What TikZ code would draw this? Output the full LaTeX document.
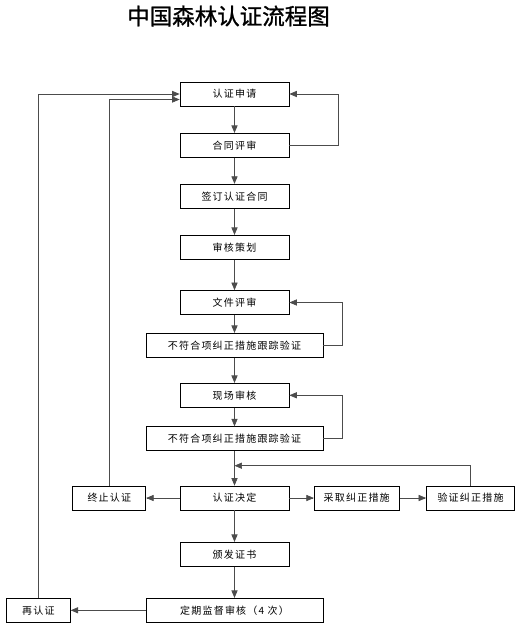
\documentclass[tikz,border=0pt]{standalone}
\usepackage{fontspec}
\newfontfamily\cjk[LetterSpace=12]{Noto Sans CJK SC}
\newfontfamily\cjktitle[FakeBold=1.2]{Noto Sans CJK SC}
\usetikzlibrary{arrows}

\begin{document}
\begin{tikzpicture}
  [x=1pt,y=-1pt,every node/.style={draw,thick,inner sep=0pt,minimum height=24pt,font=\cjk\fontsize{10}{12}\selectfont}]
  \useasboundingbox (0,0) rectangle (526,632);
  \tikzset{flow/.style={draw=black!70,line width=0.7pt,arrows={-{triangle 45}}},
           box/.style={minimum width=109pt},
           widebox/.style={minimum width=177pt}}

  \node[draw=none,font=\cjktitle\fontsize{22.5}{26}\selectfont] (title) at (228.5,16) {中国森林认证流程图};

  \node[box] (apply) at (234.5,94) {认证申请};
  \node[box] (contract) at (234.5,145.3) {合同评审};
  \node[box] (sign) at (234.5,196.2) {签订认证合同};
  \node[box] (plan) at (234.5,247.3) {审核策划};
  \node[box] (docrev) at (234.5,302.5) {文件评审};
  \node[widebox] (nc1) at (234.5,345.3) {不符合项纠正措施跟踪验证};
  \node[box] (site) at (234.5,395.3) {现场审核};
  \node[widebox] (nc2) at (234.5,438.7) {不符合项纠正措施跟踪验证};
  \node[box] (decide) at (234.5,498) {认证决定};
  \node[minimum width=73pt] (stop) at (109.3,498) {终止认证};
  \node[minimum width=85pt] (take) at (356.7,498) {采取纠正措施};
  \node[minimum width=88pt] (verify) at (470.5,498) {验证纠正措施};
  \node[box] (issue) at (234.5,554.3) {颁发证书};
  \node[widebox] (surv) at (234.5,610.3) {定期监督审核（4 次）};
  \node[minimum width=64pt] (recert) at (38.3,610.3) {再认证};
  \coordinate (join) at (234.5,465.7);

  \draw[flow] (apply) to (contract);
  \draw[flow] (contract) to (sign);
  \draw[flow] (sign) to (plan);
  \draw[flow] (plan) to (docrev);
  \draw[flow] (docrev) to (nc1);
  \draw[flow] (nc1) to (site);
  \draw[flow] (site) to (nc2);
  \draw[flow] (nc2) to (decide);
  \draw[flow] (decide) to (stop);
  \draw[flow] (decide) to (take);
  \draw[flow] (take) to (verify);
  \draw[flow] (verify.north) |- (join);
  \draw[flow] (decide) to (issue);
  \draw[flow] (issue) to (surv);
  \draw[flow] (surv) to (recert);
  \draw[flow] (contract.east) -- ++(48.5,0) |- (apply.east);
  \draw[flow] (nc1.east) -- ++(19,0) |- (docrev.east);
  \draw[flow] (nc2.east) -- ++(19,0) |- (site.east);
  \draw[flow] (recert.north) |- (apply.west);
  \draw[flow] (stop.north) |- ([yshift=-5.5pt]apply.west);
\end{tikzpicture}
\end{document}
